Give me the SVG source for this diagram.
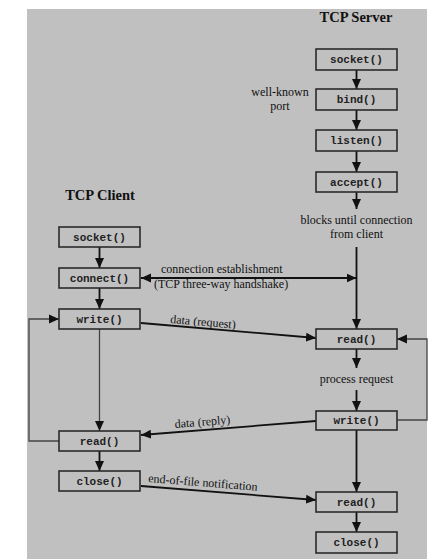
<svg xmlns="http://www.w3.org/2000/svg" width="447" height="559" viewBox="0 0 447 559">
<defs>
<marker id="ah" markerUnits="userSpaceOnUse" markerWidth="10" markerHeight="10" viewBox="0 0 10 10" refX="10" refY="5" orient="auto">
<path d="M0,0.5 L10,5 L0,9.5 Z" fill="#111"/>
</marker>
<marker id="ahs" markerUnits="userSpaceOnUse" markerWidth="10" markerHeight="10" viewBox="0 0 10 10" refX="0" refY="5" orient="auto">
<path d="M10,0.5 L0,5 L10,9.5 Z" fill="#111"/>
</marker>
</defs>
<style>
.box{fill:#c0c0c0;stroke:#2a2a2a;stroke-width:1.6}
.bt{font-family:"Liberation Mono",monospace;font-size:11px;font-weight:bold;fill:#222;text-anchor:middle}
.lb{font-family:"Liberation Serif",serif;font-size:12px;fill:#111}
.tt{font-family:"Liberation Serif",serif;font-size:14.5px;font-weight:bold;fill:#111}
.ln{fill:none;stroke:#111;stroke-width:1.8}
.thin{fill:none;stroke:#444;stroke-width:1.3}
</style>
<rect x="0" y="0" width="447" height="559" fill="#ffffff"/>
<rect x="27" y="9" width="400" height="550" fill="#c0c0c0"/>
<text class="tt" x="356" y="22" text-anchor="middle">TCP Server</text>
<text class="tt" x="100" y="200" text-anchor="middle">TCP Client</text>
<g id="connectors">
<line class="ln" x1="356.5" y1="70" x2="356.5" y2="89" marker-end="url(#ah)"/>
<line class="ln" x1="356.5" y1="110" x2="356.5" y2="130" marker-end="url(#ah)"/>
<line class="ln" x1="356.5" y1="151" x2="356.5" y2="172" marker-end="url(#ah)"/>
<line class="ln" x1="356.5" y1="192" x2="356.5" y2="209" marker-end="url(#ah)"/>
<line class="ln" x1="356.5" y1="247" x2="356.5" y2="329" marker-end="url(#ah)"/>
<line class="ln" x1="356.5" y1="349" x2="356.5" y2="368" marker-end="url(#ah)"/>
<line class="ln" x1="356.5" y1="390" x2="356.5" y2="411" marker-end="url(#ah)"/>
<line class="ln" x1="356.5" y1="430" x2="356.5" y2="492" marker-end="url(#ah)"/>
<line class="ln" x1="356.5" y1="512" x2="356.5" y2="532" marker-end="url(#ah)"/>
<line class="ln" x1="99.5" y1="247" x2="99.5" y2="268" marker-end="url(#ah)"/>
<line class="ln" x1="99.5" y1="288" x2="99.5" y2="309" marker-end="url(#ah)"/>
<line class="thin" x1="99.5" y1="329" x2="99.5" y2="431" marker-end="url(#ah)"/>
<line class="ln" x1="99.5" y1="451" x2="99.5" y2="471" marker-end="url(#ah)"/>
<polyline class="thin" points="59,441 29,441 29,319 59,319" marker-end="url(#ah)"/>
<polyline class="thin" points="397,420 427,420 427,339 397,339" marker-end="url(#ah)"/>
<line class="ln" x1="141" y1="278" x2="356.5" y2="278" marker-start="url(#ahs)" marker-end="url(#ah)"/>
<line class="ln" x1="141" y1="323" x2="316" y2="338" marker-end="url(#ah)"/>
<line class="ln" x1="316" y1="421" x2="141" y2="435" marker-end="url(#ah)"/>
<line class="ln" x1="141" y1="486" x2="316" y2="500" marker-end="url(#ah)"/>
</g>
<text class="lb" x="161" y="273">connection establishment</text>
<text class="lb" x="154" y="288">(TCP three-way handshake)</text>
<text class="lb" x="170" y="323" transform="rotate(4.9 170 323)">data (request)</text>
<text class="lb" x="175" y="428" transform="rotate(-4.6 175 428)">data (reply)</text>
<text class="lb" x="148" y="482" transform="rotate(4.6 148 482)">end-of-file notification</text>
<text class="lb" x="280" y="96" text-anchor="middle">well-known</text>
<text class="lb" x="280" y="110" text-anchor="middle">port</text>
<text class="lb" x="356.5" y="224" text-anchor="middle">blocks until connection</text>
<text class="lb" x="356.5" y="238" text-anchor="middle">from client</text>
<text class="lb" x="356.5" y="383" text-anchor="middle">process request</text>
<g id="s_socket"><rect class="box" x="316" y="49" width="81" height="21"/><text class="bt" x="356.5" y="63">socket()</text></g>
<g id="s_bind"><rect class="box" x="316" y="89" width="81" height="21"/><text class="bt" x="356.5" y="103">bind()</text></g>
<g id="s_listen"><rect class="box" x="316" y="130" width="81" height="21"/><text class="bt" x="356.5" y="144">listen()</text></g>
<g id="s_accept"><rect class="box" x="316" y="172" width="81" height="20"/><text class="bt" x="356.5" y="186">accept()</text></g>
<g id="s_read"><rect class="box" x="316" y="329" width="81" height="20"/><text class="bt" x="356.5" y="343">read()</text></g>
<g id="s_write"><rect class="box" x="316" y="411" width="81" height="19"/><text class="bt" x="356.5" y="424">write()</text></g>
<g id="s_read2"><rect class="box" x="316" y="492" width="81" height="20"/><text class="bt" x="356.5" y="506">read()</text></g>
<g id="s_close"><rect class="box" x="316" y="532" width="81" height="21"/><text class="bt" x="356.5" y="546">close()</text></g>
<g id="c_socket"><rect class="box" x="59" y="227" width="81" height="20"/><text class="bt" x="99.5" y="241">socket()</text></g>
<g id="c_connect"><rect class="box" x="59" y="268" width="81" height="20"/><text class="bt" x="99.5" y="282">connect()</text></g>
<g id="c_write"><rect class="box" x="59" y="309" width="81" height="20"/><text class="bt" x="99.5" y="323">write()</text></g>
<g id="c_read"><rect class="box" x="59" y="431" width="81" height="20"/><text class="bt" x="99.5" y="445">read()</text></g>
<g id="c_close"><rect class="box" x="59" y="471" width="81" height="20"/><text class="bt" x="99.5" y="485">close()</text></g>
</svg>
